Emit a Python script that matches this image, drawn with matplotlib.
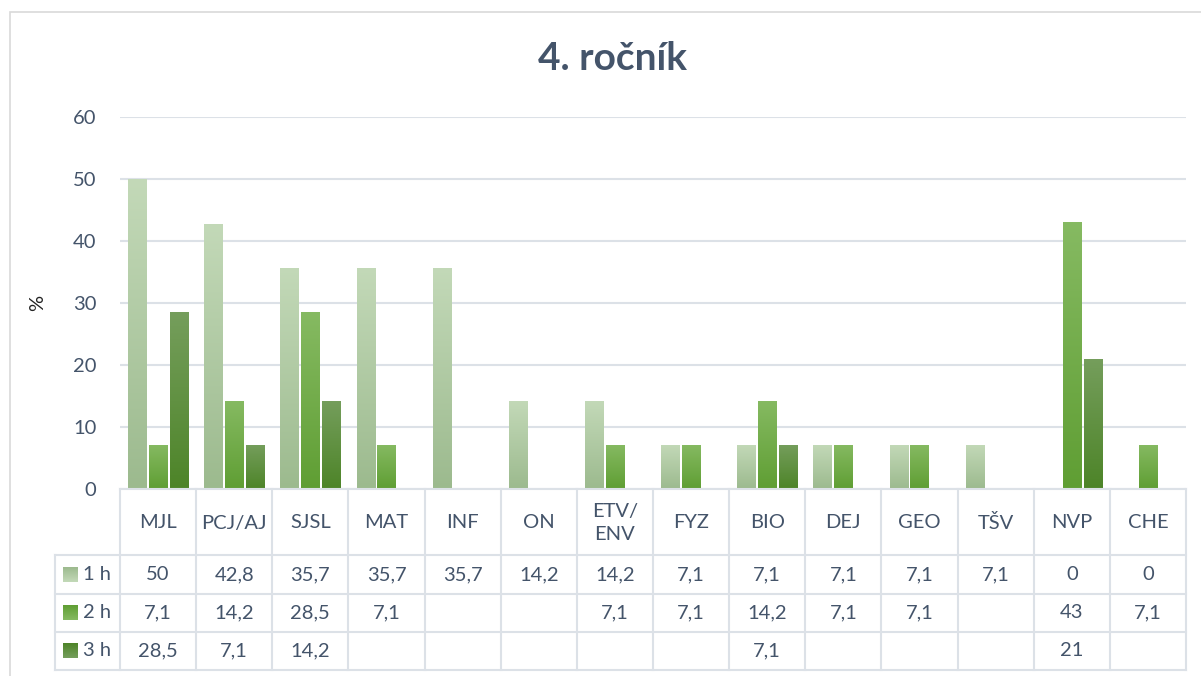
import numpy as np
import matplotlib
matplotlib.use("Agg")
import matplotlib.pyplot as plt
from matplotlib.colors import LinearSegmentedColormap
from matplotlib.patches import Rectangle

plt.rcParams['font.family'] = ['Lato', 'DejaVu Sans']

subjects = ["MJL", "PCJ/AJ", "SJSL", "MAT", "INF", "ON", "ETV/\nENV", "FYZ",
            "BIO", "DEJ", "GEO", "TŠV", "NVP", "CHE"]
series = ["1 h", "2 h", "3 h"]
h1 = [50, 42.8, 35.7, 35.7, 35.7, 14.2, 14.2, 7.1, 7.1, 7.1, 7.1, 7.1, 0, 0]
h2 = [7.1, 14.2, 28.5, 7.1, None, None, 7.1, 7.1, 14.2, 7.1, 7.1, None, 43, 7.1]
h3 = [28.5, 7.1, 14.2, None, None, None, None, None, 7.1, None, None, None, 21, None]

# gradient colours (bottom, top) per series
grads = [("#9CBA8E", "#C3D9B8"), ("#5F9E33", "#86BA62"), ("#4D8428", "#759E5C")]
txt_col = "#44546A"
line_col = "#DCE1E7"

W, H = 1201, 676
fig = plt.figure(figsize=(W / 100, H / 100), dpi=100)

# outer chart border
fig.add_artist(Rectangle((10 / W, -0.01), 1.2, (H - 12) / H + 0.01,
                         transform=fig.transFigure, fill=False,
                         edgecolor="#D9D9D9", lw=1.2))

L, R, T, B = 120, 1186, 117, 489
ax = fig.add_axes([L / W, 1 - B / H, (R - L) / W, (B - T) / H])
n = len(subjects)
x = np.arange(n)
bw = 0.237
step = 0.275

for k, (vals, (c0, c1)) in enumerate(zip([h1, h2, h3], grads)):
    cmap = LinearSegmentedColormap.from_list("g%d" % k, [c0, c1])
    v = np.array([np.nan if a is None else a for a in vals], dtype=float)
    bars = ax.bar(x + (k - 1) * step, v, bw, color="none", edgecolor="none")
    for b in bars:
        hgt = b.get_height()
        if not np.isfinite(hgt) or hgt <= 0:
            continue
        x0, y0 = b.get_x(), b.get_y()
        im = ax.imshow(np.linspace(0, 1, 256).reshape(-1, 1), cmap=cmap,
                       origin="lower", aspect="auto",
                       extent=[x0, x0 + b.get_width(), y0, y0 + hgt], zorder=2)
        im.set_clip_path(b)

ax.set_xlim(-0.5, n - 0.5)
ax.set_ylim(0, 60)
ax.set_yticks(range(0, 61, 10))
ax.yaxis.grid(True, color=line_col, lw=1.5)
ax.set_axisbelow(True)
ax.set_xticks([])
for s in ["top", "right", "left"]:
    ax.spines[s].set_visible(False)
ax.spines["bottom"].set_color(line_col)
ax.spines["bottom"].set_linewidth(1.5)
ax.tick_params(axis="y", length=0, labelsize=14.5, labelcolor=txt_col, pad=17)
ax.set_ylabel("%", fontsize=14.5, color="#222222", labelpad=19)

fig.text(612 / W, 1 - 58 / H, "4. ročník", ha="center", va="center",
         fontsize=28, fontweight="bold", color=txt_col)

# data table below the axis, x in category units, y in pixels
tax = fig.add_axes([0, 0, 1, 1])
tax.axis("off")
u = (R - L) / n
tax.set_xlim(-0.5 - L / u, -0.5 + (W - L) / u)
tax.set_ylim(H, 0)
left_px = 55
xl = -0.5 - (L - left_px) / u
rows = [489, 555, 594, 632, 670]
for y in rows[1:]:
    tax.plot([xl, n - 0.5], [y, y], color=line_col, lw=1.5)
for i in range(n + 1):
    tax.plot([i - 0.5, i - 0.5], [rows[0], rows[-1]], color=line_col, lw=1.5)
tax.plot([xl, xl], [rows[1], rows[-1]], color=line_col, lw=1.5)

for i, s in enumerate(subjects):
    tax.text(i, (rows[0] + rows[1]) / 2 + 1, s, ha="center", va="center",
             fontsize=14.5, color=txt_col, linespacing=1.45)

for r, (name, vals, (c0, c1)) in enumerate(zip(series, [h1, h2, h3], grads)):
    yc = (rows[r + 1] + rows[r + 2]) / 2
    kx = -0.5 - (L - 63) / u
    kcm = LinearSegmentedColormap.from_list("k%d" % r, [c0, c1])
    tax.imshow(np.linspace(0, 1, 64).reshape(-1, 1), cmap=kcm, origin="upper",
               aspect="auto", extent=[kx, kx + 15 / u, yc + 7.5, yc - 7.5])
    tax.text(kx + 20 / u, yc, name, ha="left", va="center", fontsize=14.5,
             color=txt_col)
    for i, v in enumerate(vals):
        if v is None:
            continue
        lab = ("%g" % v).replace(".", ",")
        tax.text(i, yc, lab, ha="center", va="center", fontsize=14.5,
                 color=txt_col)
tax.set_xlim(-0.5 - L / u, -0.5 + (W - L) / u)
tax.set_ylim(H, 0)

fig.savefig("out.png", dpi=100)
